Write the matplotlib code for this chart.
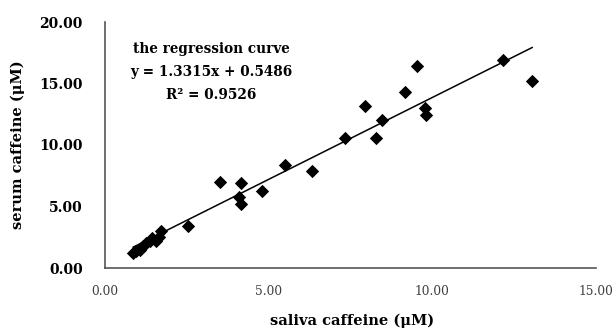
import matplotlib
matplotlib.use("Agg")
import matplotlib.pyplot as plt
import numpy as np

saliva = [0.86, 0.96, 1.06, 1.16, 1.26, 1.36, 1.45, 1.55, 1.65, 1.70,
          2.53, 3.51, 4.10, 4.14, 4.17, 4.81, 5.49, 6.31,
          7.32, 7.95, 8.28, 8.45, 9.18, 9.52, 9.79, 9.82, 12.15, 13.05]
serum = [1.2, 1.4, 1.5, 1.8, 2.0, 2.2, 2.4, 2.2, 2.5, 3.0,
         3.4, 7.0, 5.8, 5.2, 6.9, 6.3, 8.4, 7.9,
         10.6, 13.2, 10.6, 12.0, 14.3, 16.4, 13.0, 12.4, 16.9, 15.2]
slope, intercept, r2 = 1.3315, 0.5486, 0.9526
x_ticks = [0, 5, 10, 15]
y_ticks = [0, 5, 10, 15, 20]
note_lines = ["the regression curve", f"y = {slope}x + {intercept}", f"R² = {r2}"]

serif = ["DejaVu Serif"]
W, H = 614, 331
fig = plt.figure(figsize=(W/100, H/100), dpi=100)
ax = fig.add_axes([105/W, 63/H, 491/W, 246/H])
ax.scatter(saliva, serum, marker="D", s=46, color="black", zorder=3, linewidths=0)
xl = np.array([min(saliva), max(saliva)])
ax.plot(xl, slope*xl + intercept, color="black", lw=1.1)
ax.set_xlim(0, 15)
ax.set_ylim(0, 20)
ax.set_xticks(x_ticks)
ax.set_yticks(y_ticks)
ax.set_xticklabels([f"{v:.2f}" for v in x_ticks], fontfamily=serif, fontsize=8.8, color="#404040")
ax.set_yticklabels([f"{v:.2f}" for v in y_ticks], fontfamily=serif, fontsize=10, fontweight="bold")
ax.tick_params(axis="x", length=0, pad=12)
ax.tick_params(axis="y", length=0, pad=16)
for s in ["top", "right"]:
    ax.spines[s].set_visible(False)
for s in ["left", "bottom"]:
    ax.spines[s].set_color("#555555")
    ax.spines[s].set_linewidth(1.2)
ax.set_xlabel("saliva caffeine (μM)", fontfamily=serif, fontsize=10.5, fontweight="bold")
ax.xaxis.set_label_coords(352/W, 1 - 314/H, transform=fig.transFigure)
ax.set_ylabel("serum caffeine (μM)", fontfamily=serif, fontsize=10.5, fontweight="bold")
ax.yaxis.set_label_coords(25/W, 1 - 145/H, transform=fig.transFigure)
for i, line in enumerate(note_lines):
    fig.text(211/W, 1 - (49 + 23*i)/H, line, ha="center", va="center",
             fontfamily=serif, fontsize=9.8, fontweight="bold")
fig.savefig("out.png", dpi=100)
